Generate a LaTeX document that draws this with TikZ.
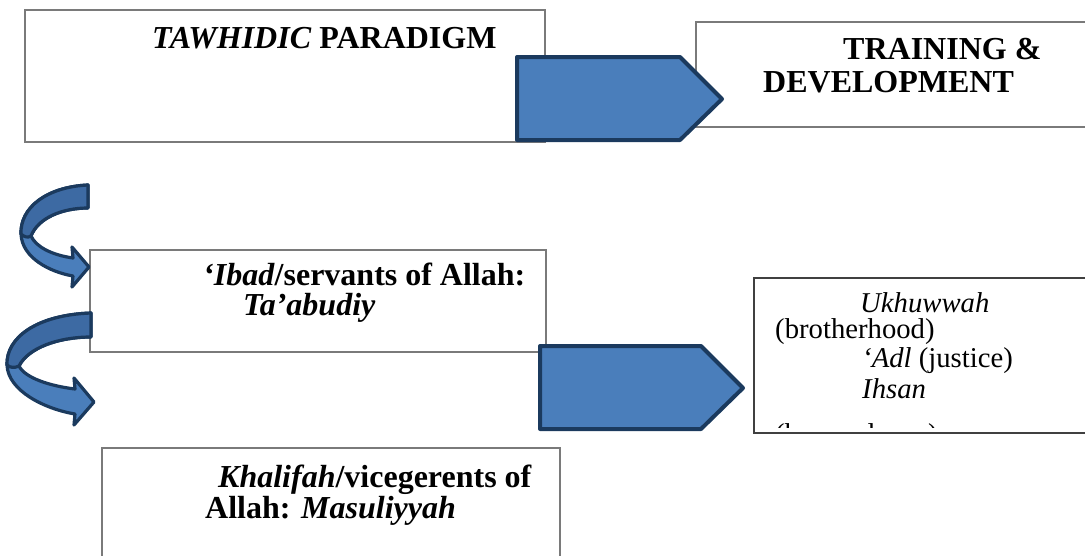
\documentclass[tikz,border=0pt]{standalone}
\usepackage{fontspec}
\setmainfont{Liberation Serif}
\definecolor{arrfill}{HTML}{4A7EBB}
\definecolor{arrdark}{HTML}{3D6AA3}
\definecolor{arrline}{HTML}{1B3A5E}
\definecolor{boxline}{HTML}{7A7A7A}
\tikzset{
  box/.style={draw=boxline, line width=1.2pt, rectangle, anchor=north west, inner sep=0pt, outer sep=0pt},
  blockarrow/.style={fill=arrfill, draw=arrline, line width=4pt, line join=round},
  curvearrow/.style={fill=arrfill, draw=arrline, line width=3.2pt, line join=round},
  curveband/.style={fill=arrdark, draw=arrline, line width=3.2pt, line join=round},
  bigtext/.style={anchor=base west, inner sep=0pt, font=\fontsize{32}{36}\selectfont\bfseries},
  smalltext/.style={anchor=base west, inner sep=0pt, font=\fontsize{28.7}{32}\selectfont},
}
\begin{document}
\begin{tikzpicture}[x=1pt,y=-1pt]
\useasboundingbox (0,0) rectangle (1085,555);
% boxes
\node[box, minimum width=520pt, minimum height=132pt] (paradigm) at (25,10) {};
\node[box, minimum width=394pt, minimum height=105pt] (training) at (696,22) {};
\node[box, minimum width=456pt, minimum height=102pt] (ibad) at (90,250) {};
\node[box, draw=black!75, minimum width=340pt, minimum height=155pt] (values) at (754,278) {};
\node[box, minimum width=458pt, minimum height=130pt] (khalifah) at (102,448) {};
% texts
\node[bigtext] (t1) at (152,48) {\textit{TAWHIDIC} PARADIGM};
\node[bigtext] (t2a) at (843,59) {TRAINING \&};
\node[bigtext] (t2b) at (763,92) {DEVELOPMENT};
\node[bigtext] (t3a) at (203,285) {\textit{‘Ibad}/servants of Allah:};
\node[bigtext] (t3b) at (243,315) {\textit{Ta’abudiy}};
\node[bigtext] (t5a) at (218,487) {\textit{Khalifah}/vicegerents of};
\node[bigtext] (t5b) at (205,518) {Allah: \textit{Masuliyyah}};
\node[smalltext] (t4a) at (860,312) {\textit{Ukhuwwah}};
\node[smalltext] (t4b) at (775,338) {(brotherhood)};
\node[smalltext] (t4c) at (862,367) {\textit{‘Adl} (justice)};
\node[smalltext] (t4d) at (862,398) {\textit{Ihsan}};
\begin{scope}
\clip (754,300) rectangle (1085,427);
\node[smalltext] (t4e) at (775,443) {(benevolence)};
\end{scope}
% block arrows
\draw[blockarrow] (517,57) -- (680,57) -- (722,99) -- (680,140) -- (517,140) -- cycle;
\draw[blockarrow] (540,346) -- (701,346) -- (743,388) -- (701,429) -- (540,429) -- cycle;
% curved arrow 1
\draw[curvearrow] (88,185) .. controls (46,187) and (20,208) .. (21,234)
  .. controls (22,258) and (50,272) .. (73,276) -- (72,287) -- (89,267) -- (72,247) -- (73,258)
  .. controls (52,255) and (36,247) .. (31,236)
  .. controls (38,218) and (62,208) .. (88,208) -- cycle;
\draw[curveband] (88,185) .. controls (46,187) and (20,208) .. (21,234)
  .. controls (24,237) and (28,238) .. (31,236)
  .. controls (38,218) and (62,208) .. (88,208) -- cycle;
% curved arrow 2
\draw[curvearrow] (91,313) .. controls (36,315) and (6,338) .. (7,365)
  .. controls (8,391) and (45,409) .. (75,414) -- (74,425) -- (94,402) -- (74,378) -- (75,389)
  .. controls (50,386) and (25,378) .. (19,366)
  .. controls (28,348) and (58,337) .. (91,337) -- cycle;
\draw[curveband] (91,313) .. controls (36,315) and (6,338) .. (7,365)
  .. controls (10,368) and (15,368) .. (19,366)
  .. controls (28,348) and (58,337) .. (91,337) -- cycle;
\end{tikzpicture}
\end{document}
